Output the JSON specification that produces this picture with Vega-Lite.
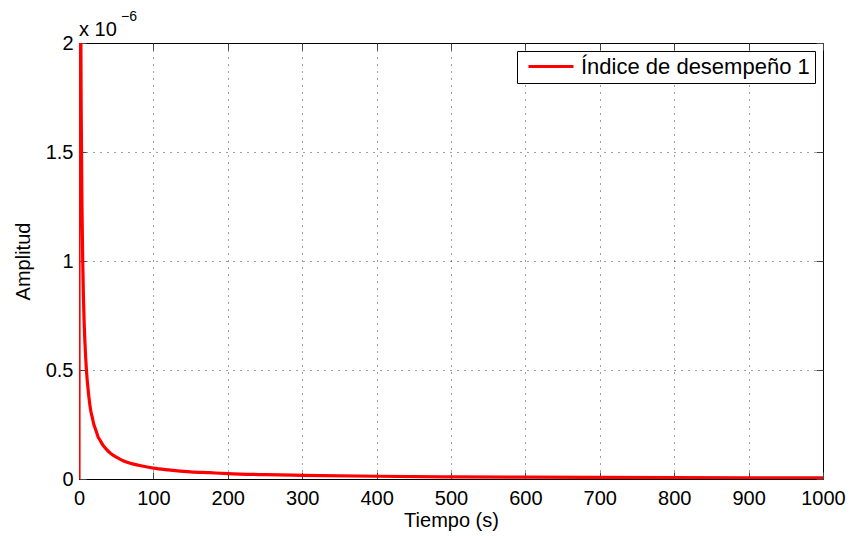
{
  "$schema": "https://vega.github.io/schema/vega-lite/v6.json",
  "width": 744,
  "height": 436,
  "autosize": "none",
  "padding": {"left": 79, "top": 43, "right": 29, "bottom": 57},
  "background": "white",
  "config": {
    "font": "Liberation Sans",
    "view": {"stroke": "black", "strokeWidth": 1},
    "axis": {
      "domainColor": "black",
      "tickColor": "#444444",
      "gridColor": "black",
      "gridDash": [1, 6],
      "gridWidth": 1,
      "gridOpacity": 0.75,
      "labelColor": "black",
      "labelFontSize": 20,
      "titleColor": "black",
      "titleFontSize": 20,
      "titleFontWeight": "normal",
      "tickSize": -7,
      "labelFlush": false
    }
  },
  "data": {
    "values": [
      {"t": 0, "amplitud": 0},
      {"t": 0.5, "amplitud": 1e-5},
      {"t": 1, "amplitud": 5e-6},
      {"t": 2, "amplitud": 2.5e-6},
      {"t": 3, "amplitud": 1.67e-6},
      {"t": 4, "amplitud": 1.25e-6},
      {"t": 5, "amplitud": 1.0e-6},
      {"t": 6, "amplitud": 8.3e-7},
      {"t": 7, "amplitud": 7.1e-7},
      {"t": 8, "amplitud": 6.25e-7},
      {"t": 9, "amplitud": 5.55e-7},
      {"t": 10, "amplitud": 5.0e-7},
      {"t": 11, "amplitud": 4.55e-7},
      {"t": 12, "amplitud": 4.2e-7},
      {"t": 13, "amplitud": 3.85e-7},
      {"t": 14, "amplitud": 3.57e-7},
      {"t": 15, "amplitud": 3.3e-7},
      {"t": 16, "amplitud": 3.1e-7},
      {"t": 18, "amplitud": 2.8e-7},
      {"t": 20, "amplitud": 2.5e-7},
      {"t": 22, "amplitud": 2.3e-7},
      {"t": 24, "amplitud": 2.1e-7},
      {"t": 26, "amplitud": 1.9e-7},
      {"t": 28, "amplitud": 1.8e-7},
      {"t": 30, "amplitud": 1.67e-7},
      {"t": 35, "amplitud": 1.43e-7},
      {"t": 40, "amplitud": 1.25e-7},
      {"t": 45, "amplitud": 1.11e-7},
      {"t": 50, "amplitud": 1.0e-7},
      {"t": 55, "amplitud": 9.1e-8},
      {"t": 60, "amplitud": 8.3e-8},
      {"t": 70, "amplitud": 7.1e-8},
      {"t": 80, "amplitud": 6.3e-8},
      {"t": 90, "amplitud": 5.6e-8},
      {"t": 100, "amplitud": 5.0e-8},
      {"t": 120, "amplitud": 4.2e-8},
      {"t": 150, "amplitud": 3.3e-8},
      {"t": 175, "amplitud": 2.9e-8},
      {"t": 200, "amplitud": 2.5e-8},
      {"t": 250, "amplitud": 2.0e-8},
      {"t": 300, "amplitud": 1.7e-8},
      {"t": 400, "amplitud": 1.25e-8},
      {"t": 500, "amplitud": 1.0e-8},
      {"t": 600, "amplitud": 8.3e-9},
      {"t": 700, "amplitud": 7.1e-9},
      {"t": 800, "amplitud": 6.3e-9},
      {"t": 900, "amplitud": 5.6e-9},
      {"t": 1000, "amplitud": 5.0e-9}
    ]
  },
  "resolve": {"axis": {"x": "independent", "y": "independent"}},
  "layer": [
    {
      "mark": {"type": "line", "clip": true, "strokeWidth": 3.2, "interpolate": "monotone"},
      "encoding": {
        "x": {
          "field": "t",
          "type": "quantitative",
          "scale": {"domain": [0, 1000], "nice": false, "zero": false},
          "axis": {
            "title": "Tiempo (s)",
            "values": [0, 100, 200, 300, 400, 500, 600, 700, 800, 900, 1000],
            "format": "d",
            "labelPadding": 16,
            "titlePadding": 2,
            "labelFlush": false,
            "labelBound": false,
            "labelOverlap": false,
            "labelAlign": "center"
          }
        },
        "y": {
          "field": "amplitud",
          "type": "quantitative",
          "scale": {"domain": [0, 2e-6], "nice": false},
          "axis": {
            "title": "Amplitud",
            "values": [0, 5e-7, 1e-6, 1.5e-6, 2e-6],
            "labelExpr": "format(datum.value * 1e6, '.2~f')",
            "labelPadding": 13,
            "titlePadding": 12,
            "labelFlush": false
          }
        },
        "color": {
          "datum": "Índice de desempeño 1",
          "type": "nominal",
          "scale": {"range": ["#ff0000"]},
          "legend": {
            "title": null,
            "orient": "top-right",
            "offset": 8,
            "fillColor": "white",
            "strokeColor": "black",
            "padding": 5,
            "clipHeight": 21,
            "symbolType": "stroke",
            "symbolSize": 2025,
            "symbolStrokeWidth": 3,
            "labelFontSize": 22,
            "labelLimit": 0,
            "labelColor": "black",
            "labelOffset": 6,
            "symbolOffset": 5
          }
        }
      }
    },
    {
      "data": {"values": [{}]},
      "mark": {"type": "rule", "opacity": 0},
      "encoding": {
        "x": {
          "datum": 0,
          "type": "quantitative",
          "axis": {
            "orient": "top",
            "title": null,
            "labels": false,
            "grid": false,
            "domain": false,
            "values": [0, 100, 200, 300, 400, 500, 600, 700, 800, 900, 1000]
          }
        },
        "y": {
          "datum": 0,
          "type": "quantitative",
          "axis": {
            "orient": "right",
            "title": null,
            "labels": false,
            "grid": false,
            "domain": false,
            "values": [0, 5e-7, 1e-6, 1.5e-6, 2e-6]
          }
        }
      }
    },
    {
      "data": {"values": [{}]},
      "mark": {"type": "text", "text": "x 10", "align": "left", "baseline": "alphabetic", "fontSize": 20, "dy": -7, "color": "black"},
      "encoding": {
        "x": {"datum": 0, "type": "quantitative", "axis": null},
        "y": {"datum": 2e-6, "type": "quantitative", "axis": null}
      }
    },
    {
      "data": {"values": [{}]},
      "mark": {"type": "text", "text": "−6", "align": "left", "baseline": "alphabetic", "fontSize": 14, "dx": 42, "dy": -22, "color": "black"},
      "encoding": {
        "x": {"datum": 0, "type": "quantitative", "axis": null},
        "y": {"datum": 2e-6, "type": "quantitative", "axis": null}
      }
    }
  ]
}
